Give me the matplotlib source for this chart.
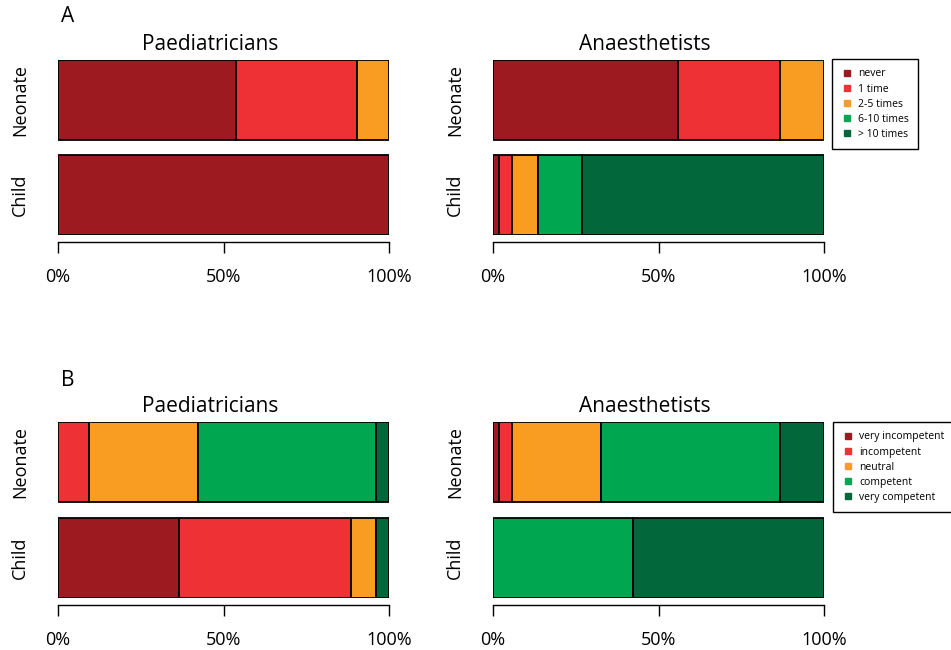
import numpy as np
import matplotlib
matplotlib.use("Agg")
import matplotlib.pyplot as plt
from matplotlib.lines import Line2D

plt.rcParams['font.family'] = ['Open Sans', 'DejaVu Sans']

# 行（上から Neonate, Child）
rows = ['Neonate', 'Child']
groups = ['Paediatricians', 'Anaesthetists']

# A: 経験回数（%）
freq_labels = ['never', '1 time', '2-5 times', '6-10 times', '> 10 times']
freq_paed_neonate = [53.8, 36.6, 9.6, 0.0, 0.0]
freq_paed_child = [100.0, 0.0, 0.0, 0.0, 0.0]
freq_anae_neonate = [55.8, 30.8, 13.4, 0.0, 0.0]
freq_anae_child = [1.8, 3.9, 7.8, 13.4, 73.1]

# B: 自己評価（%）
comp_labels = ['very incompetent', 'incompetent', 'neutral', 'competent', 'very competent']
comp_paed_neonate = [0.0, 9.5, 32.8, 53.9, 3.8]
comp_paed_child = [36.6, 51.8, 7.8, 0.0, 3.8]
comp_anae_neonate = [1.8, 3.9, 27.0, 53.9, 13.4]
comp_anae_child = [0.0, 0.0, 0.0, 42.3, 57.7]

colors = ['#9c1a20', '#ee3135', '#f89d22', '#00a650', '#02673a']

W, H = 951, 650
fig = plt.figure(figsize=(W / 100, H / 100), dpi=100)


def px_axes(x0, y0, x1, y1):
    # ピクセル座標で軸を作る
    return fig.add_axes([x0 / W, 1 - y1 / H, (x1 - x0) / W, (y1 - y0) / H])


def stacked(ax, neonate, child, title):
    bh = 0.838
    for vals, y in [(neonate, 1), (child, 0)]:
        left = 0.0
        for v, c in zip(vals, colors):
            if v > 0:
                ax.barh(y, v / 100, left=left, height=bh, color=c,
                        edgecolor='black', linewidth=1.3)
            left += v / 100
    ax.set_xlim(0, 1)
    ax.set_ylim(-bh / 2, 1 + bh / 2)
    for s in ['top', 'right', 'left']:
        ax.spines[s].set_visible(False)
    ax.spines['bottom'].set_position(('outward', 5))
    ax.spines['bottom'].set_linewidth(1.0)
    ax.set_xticks([0, 0.5, 1], ['0%', '50%', '100%'])
    ax.tick_params(axis='x', length=8, width=1.0, pad=11, labelsize=13)
    ax.set_yticks([1, 0], rows)
    ax.tick_params(axis='y', length=0, pad=21, labelsize=13)
    for t in ax.get_yticklabels():
        t.set_rotation(90)
        t.set_va('center')
    ax.text(0.46, 1.086, title, transform=ax.transAxes, ha='center',
            va='center', fontsize=15)


def legend(labels, x, y):
    handles = [Line2D([], [], marker='s', linestyle='none', markersize=5,
                      markerfacecolor=c, markeredgecolor=c) for c in colors]
    leg = fig.legend(handles, labels, loc='upper left',
                     bbox_to_anchor=(x / W, 1 - y / H), fontsize=7.5,
                     frameon=True, fancybox=False, framealpha=1,
                     edgecolor='black', labelspacing=0.4, handlelength=1.0,
                     handletextpad=0.6, borderpad=0.9, borderaxespad=0)
    leg.get_frame().set_linewidth(1.0)


# パネルA
ax = px_axes(58, 60, 389, 235)
stacked(ax, freq_paed_neonate, freq_paed_child, groups[0])
ax = px_axes(493, 60, 824, 235)
stacked(ax, freq_anae_neonate, freq_anae_child, groups[1])
legend(freq_labels, 832, 59)

# パネルB
ax = px_axes(58, 422, 389, 598)
stacked(ax, comp_paed_neonate, comp_paed_child, groups[0])
ax = px_axes(493, 422, 824, 598)
stacked(ax, comp_anae_neonate, comp_anae_child, groups[1])
legend(comp_labels, 833, 422)

fig.text(61 / W, 1 - 16 / H, 'A', fontsize=15, ha='left', va='center')
fig.text(61 / W, 1 - 380 / H, 'B', fontsize=15, ha='left', va='center')

plt.savefig('out.png', dpi=100)
